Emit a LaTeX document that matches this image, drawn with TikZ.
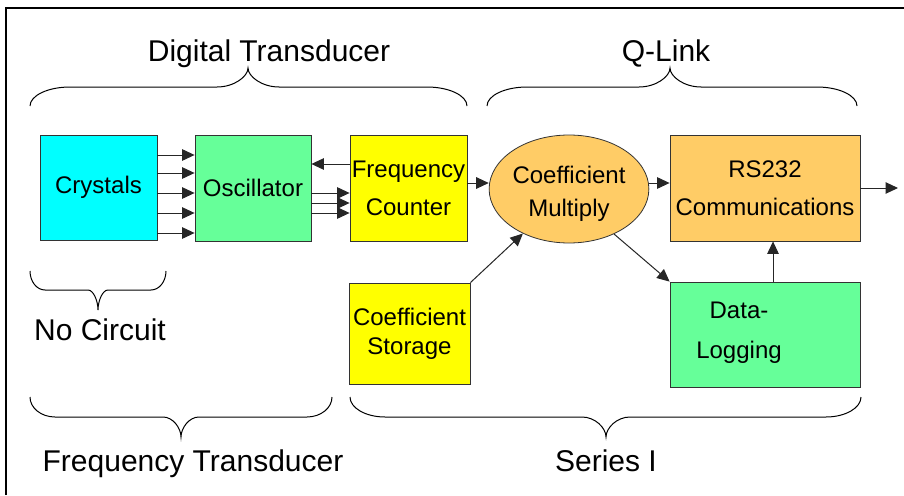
\documentclass[tikz,border=0pt]{standalone}
\usepackage{fontspec}
\setmainfont{Liberation Sans}
\usetikzlibrary{arrows.meta,shapes.geometric,calc}

\definecolor{cyanbox}{HTML}{00FFFF}
\definecolor{greenbox}{HTML}{66FF99}
\definecolor{yellowbox}{HTML}{FFFF00}
\definecolor{orangebox}{HTML}{FFCC66}
\definecolor{edge}{HTML}{333333}

% curly brace: x-left, x-right, x-tip, y-ends, y-flat, y-tip, end radius, tip radius
\newcommand\BraceShape[8]{%
  \draw[bracestyle] (#1,#4) .. controls (#1,{#5+0.45*(#4-#5)}) and ({#1+0.45*#7},#5) .. ({#1+#7},#5)
    -- ({#3-#8},#5) .. controls ({#3-0.45*#8},#5) and (#3,{#5+0.55*(#6-#5)}) .. (#3,#6)
    .. controls (#3,{#5+0.55*(#6-#5)}) and ({#3+0.45*#8},#5) .. ({#3+#8},#5)
    -- ({#2-#7},#5) .. controls ({#2-0.45*#7},#5) and (#2,{#5+0.45*(#4-#5)}) .. (#2,#4);}

\tikzset{
  block/.style={draw=edge, line width=0.8pt, inner sep=0pt, align=center,
    font=\fontsize{24}{28.8}\selectfont},
  bigtext/.style={inner sep=0pt, font=\fontsize{30}{36}\selectfont},
  boxtext/.style={inner sep=0pt, align=center, font=\fontsize{24}{28.8}\selectfont},
  arr/.style={draw=black!85, line width=1pt, -{Triangle[length=12.5pt,width=11.5pt]}},
  bracestyle/.style={draw=black, line width=1pt},
}

\begin{document}
\begin{tikzpicture}[x=1pt,y=-1pt]
\useasboundingbox (0,0) rectangle (904,495);
\fill[white] (0,0) rectangle (904,495);

% frame
\draw[line width=2pt] (6,495) -- (6,8) -- (904,8);

% blocks
\node[block, fill=cyanbox, minimum width=117pt, minimum height=105pt] (crys) at (98.5,187.5) {Crystals};
\node[block, fill=greenbox, minimum width=116pt, minimum height=106pt] (osc) at (253,188) {Oscillator};
\node[block, fill=yellowbox, minimum width=117pt, minimum height=106pt] (cnt) at (408.5,188) {Frequency\\[9pt]Counter};
\node[block, ellipse, fill=orangebox, minimum width=126pt, minimum height=108pt] (mul) at (569,189) {\rule{0pt}{27pt}Coefficient\\[5pt]Multiply};
\node[block, fill=orangebox, minimum width=190pt, minimum height=106pt] (rs) at (765,188) {RS232\\[9pt]Communications};
\node[block, fill=greenbox, minimum width=190pt, minimum height=105pt] (dl) at (765,334.5) {};
\node[boxtext] (dltxt) at (739,333) {Data-\\[11pt]Logging};
\node[block, fill=yellowbox, minimum width=121pt, minimum height=101pt] (sto) at (409.5,333.5) {Coefficient\\[0.4pt]Storage};
\coordinate (out) at (898,188);

% crystals to oscillator
\foreach \yy in {155,173,193,213,233}
  \draw[arr] (crys.east |- 0,\yy) -- (osc.west |- 0,\yy);
% oscillator to counter and back
\foreach \yy in {193,203,213}
  \draw[arr] (osc.east |- 0,\yy) -- (cnt.west |- 0,\yy);
\draw[arr] (cnt.west |- 0,164) -- (osc.east |- 0,164);

% signal path
\draw[arr] (cnt.east |- 0,183) -- ([yshift=6pt]mul.west);
\draw[arr] ([yshift=6pt]mul.east) -- (rs.west |- 0,183);
\draw[arr] (sto.north east) -- (mul.224);
\draw[arr] (mul.-45) -- (dl.north west);
\draw[arr] ([xshift=8pt]dl.north) -- ([xshift=8pt]rs.south);
\draw[arr] (rs.east) -- (out);

% braces
\BraceShape{30}{467}{248}{106}{87}{68}{40}{31}
\BraceShape{487}{857}{670}{106}{87}{68}{40}{31}
\BraceShape{30}{166}{98}{271}{290}{310}{15}{10}
\BraceShape{30}{332}{181}{397}{417}{437}{25}{18}
\BraceShape{350}{861}{606}{397}{417}{437}{35}{24}

% labels
\node[bigtext, anchor=base] (ldt) at (269,62) {Digital Transducer};
\node[bigtext, anchor=base] (lql) at (666,62) {Q-Link};
\node[bigtext, anchor=base] (lnc) at (100,340) {No Circuit};
\node[bigtext, anchor=base] (lft) at (193,471) {Frequency Transducer};
\node[bigtext, anchor=base] (lsi) at (606,471) {Series I};
\end{tikzpicture}
\end{document}
